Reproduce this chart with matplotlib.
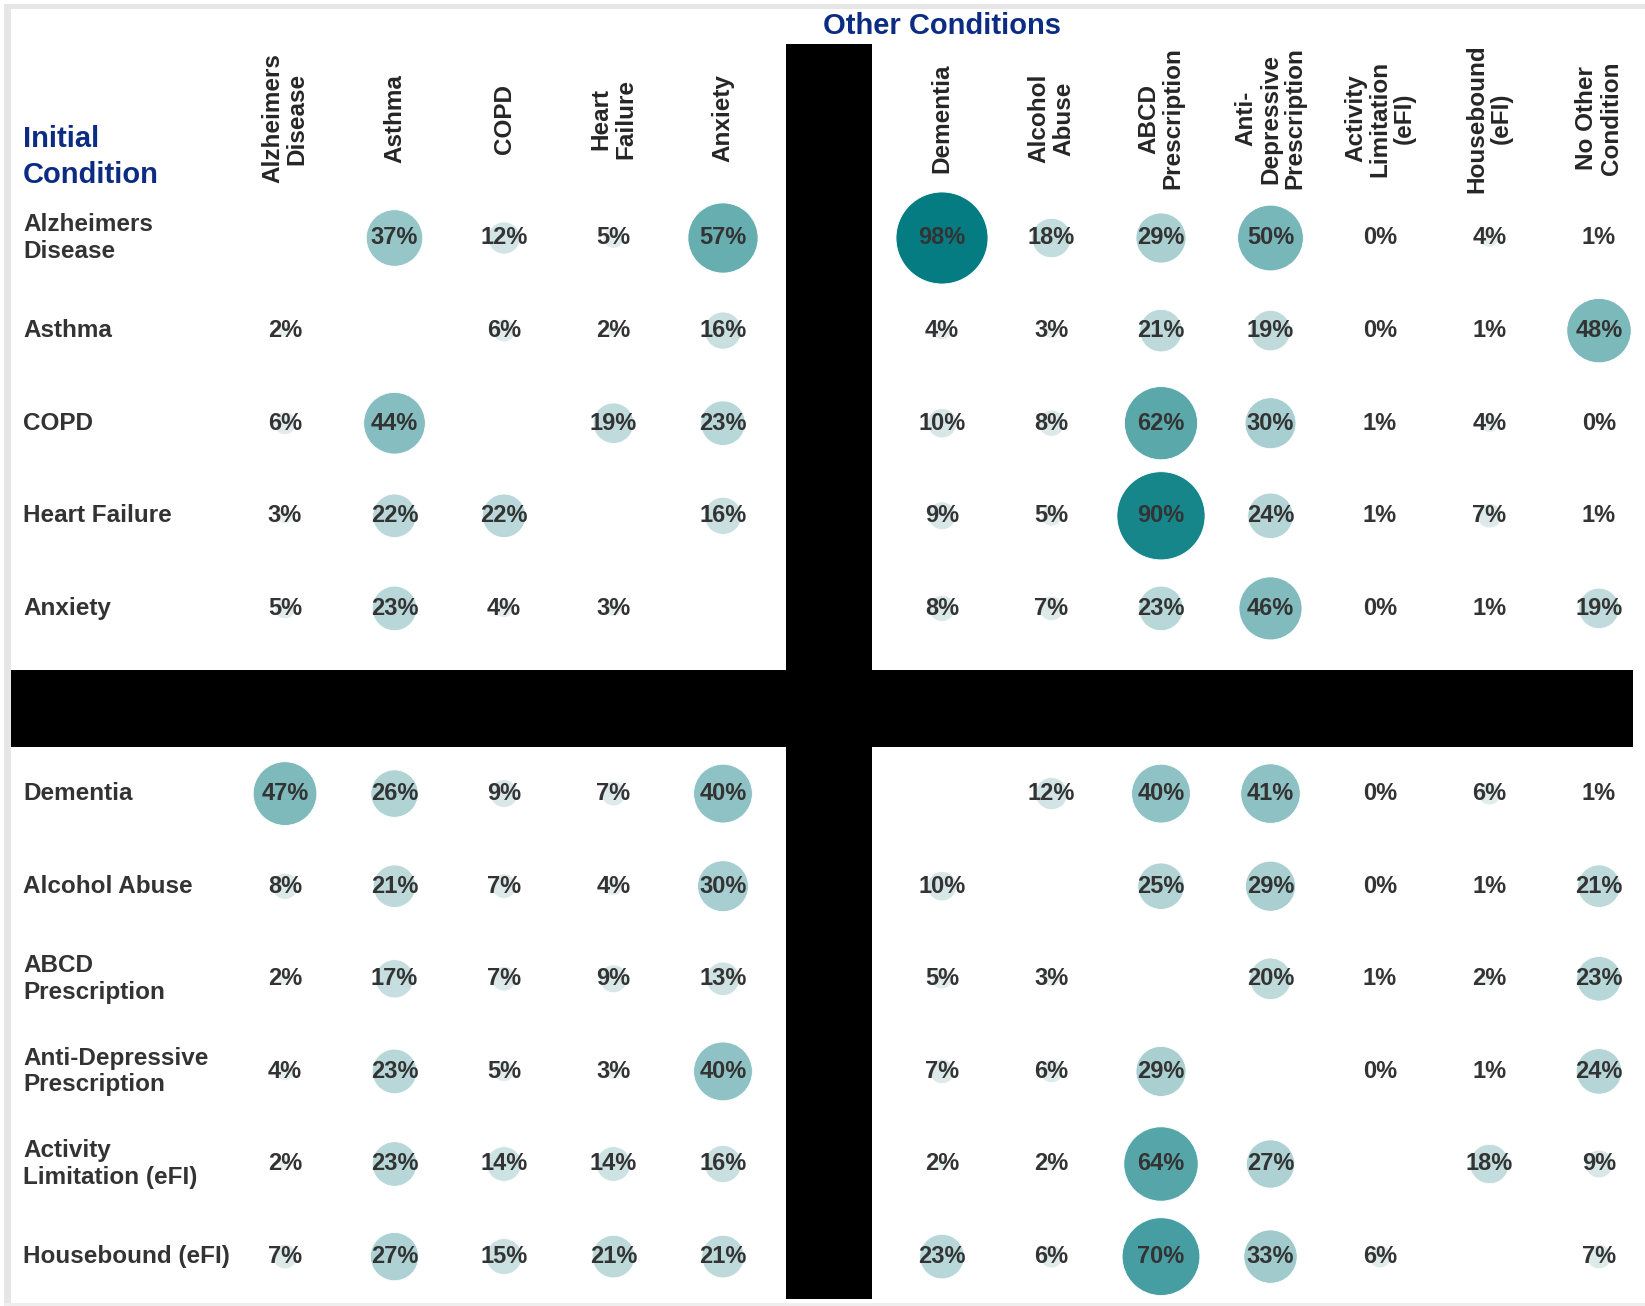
import matplotlib
matplotlib.use("Agg")
import matplotlib.pyplot as plt
import numpy as np
from matplotlib import font_manager
from matplotlib.colors import LinearSegmentedColormap
from matplotlib.patches import Rectangle

# column (other condition) and row (initial condition) labels
col_labels = ["Alzheimers\nDisease", "Asthma", "COPD", "Heart\nFailure", "Anxiety",
              "Dementia", "Alcohol\nAbuse", "ABCD\nPrescription",
              "Anti-\nDepressive\nPrescription", "Activity\nLimitation\n(eFI)",
              "Housebound\n(eFI)", "No Other\nCondition"]
row_labels = ["Alzheimers\nDisease", "Asthma", "COPD", "Heart Failure", "Anxiety",
              "Dementia", "Alcohol Abuse", "ABCD\nPrescription",
              "Anti-Depressive\nPrescription", "Activity\nLimitation (eFI)",
              "Housebound (eFI)"]

# percentages, one list per initial condition (None = same condition)
alzheimers = [None, 37, 12, 5, 57, 98, 18, 29, 50, 0, 4, 1]
asthma = [2, None, 6, 2, 16, 4, 3, 21, 19, 0, 1, 48]
copd = [6, 44, None, 19, 23, 10, 8, 62, 30, 1, 4, 0]
heart_failure = [3, 22, 22, None, 16, 9, 5, 90, 24, 1, 7, 1]
anxiety = [5, 23, 4, 3, None, 8, 7, 23, 46, 0, 1, 19]
dementia = [47, 26, 9, 7, 40, None, 12, 40, 41, 0, 6, 1]
alcohol_abuse = [8, 21, 7, 4, 30, 10, None, 25, 29, 0, 1, 21]
abcd_prescription = [2, 17, 7, 9, 13, 5, 3, None, 20, 1, 2, 23]
antidep_prescription = [4, 23, 5, 3, 40, 7, 6, 29, None, 0, 1, 24]
activity_limitation = [2, 23, 14, 14, 16, 2, 2, 64, 27, None, 18, 9]
housebound = [7, 27, 15, 21, 21, 23, 6, 70, 33, 6, None, 7]

table = [alzheimers, asthma, copd, heart_failure, anxiety, dementia,
         alcohol_abuse, abcd_prescription, antidep_prescription,
         activity_limitation, housebound]

names = {f.name for f in font_manager.fontManager.ttflist}
num_font = "Liberation Sans Narrow" if "Liberation Sans Narrow" in names else "Liberation Sans"
lab_font = "Liberation Sans"

W, H, DPI = 1645, 1306, 100
fig = plt.figure(figsize=(W / DPI, H / DPI), dpi=DPI)
ax = fig.add_axes([0, 0, 1, 1])

# pixel layout of the grid
x0, dx = 285, 109.5
y0, dy = 238, 92.6
ax.set_xlim(-x0 / dx, (W - x0) / dx)
ax.set_ylim((H - y0) / dy, -y0 / dy)
ax.axis("off")

teal = LinearSegmentedColormap.from_list("teal", ["#EEF2F2", "#007A80"])
navy = "#0C2C84"
dark = "#333333"

# leave an empty slot between the two blocks of columns / two slots between rows
xpos = [i + (1 if i >= 5 else 0) for i in range(len(col_labels))]
ypos = [j + (1 if j >= 5 else 0) for j in range(len(row_labels))]

xs, ys, vs = [], [], []
for j, row in enumerate(table):
    for i, v in enumerate(row):
        if v is None:
            continue
        if v > 0:
            xs.append(xpos[i])
            ys.append(ypos[j])
            vs.append(v)
        ax.text(xpos[i], ypos[j], f"{v}%", ha="center", va="center",
                fontsize=17, fontweight="bold", color=dark, family=num_font, zorder=3)

vs = np.array(vs)
ax.scatter(xs, ys, s=44.8 * vs, c=vs, cmap=teal, vmin=0, vmax=100,
           edgecolors="white", linewidths=0.6, zorder=2)

# column headers
for i, lab in enumerate(col_labels):
    ax.text(xpos[i], -1.29, lab, rotation=90, ha="center", va="center",
            multialignment="center", fontsize=17.5, fontweight="bold",
            color="#262626", family=lab_font, linespacing=1.08)

# row headers
ytr = ax.get_yaxis_transform()
for j, lab in enumerate(row_labels):
    ax.text(23 / W, ypos[j], lab, transform=ytr, ha="left", va="center",
            fontsize=17.5, fontweight="bold", color=dark, family=lab_font,
            linespacing=1.2)

ax.text(23 / W, -0.875, "Initial\nCondition", transform=ytr, ha="left", va="center",
        fontsize=21, fontweight="bold", color=navy, family=lab_font, linespacing=1.4)
ax.text(xpos[5], 1 - 26 / H, "Other Conditions", transform=ax.get_xaxis_transform(),
        ha="center", va="center", fontsize=21, fontweight="bold", color=navy,
        family=lab_font)


def px_rect(x, y, w, h, color):
    # rectangle given in image pixels (origin top-left)
    fig.patches.append(Rectangle((x / W, 1 - (y + h) / H), w / W, h / H,
                                 transform=fig.transFigure, color=color,
                                 zorder=10, linewidth=0))


# light grey frame
px_rect(4, 4, W - 4, 5, "#E6E6E6")
px_rect(4, 4, 7, H - 4, "#E6E6E6")
px_rect(4, 1303, W - 4, 3, "#EEEEEE")

# black redaction bars
px_rect(786, 44, 86, 1255, "black")
px_rect(11, 670, 1622, 77, "black")

fig.savefig("out.png", dpi=DPI)
